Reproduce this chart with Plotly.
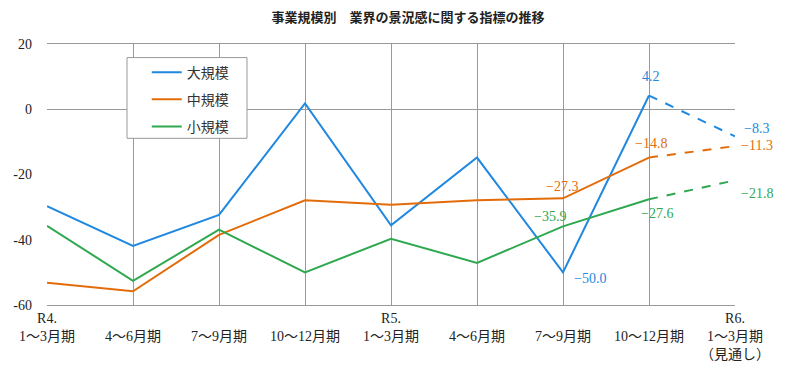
import plotly.graph_objects as go

title = "事業規模別　業界の景況感に関する指標の推移"
categories = [
    "R4.<br>1〜3月期", " <br>4〜6月期", " <br>7〜9月期", " <br>10〜12月期",
    "R5.<br>1〜3月期", " <br>4〜6月期", " <br>7〜9月期", " <br>10〜12月期",
    "R6.<br>1〜3月期<br>（見通し）",
]
series_names = ["大規模", "中規模", "小規模"]
large = [-29.7, -41.9, -32.4, 1.8, -35.6, -14.8, -50.0, 4.2, -8.3]
medium = [-53.2, -55.8, -38.5, -27.9, -29.3, -27.9, -27.3, -14.8, -11.3]
small = [-35.7, -52.6, -36.9, -50.0, -39.7, -47.1, -35.9, -27.6, -21.8]
labeled_points = [6, 7, 8]
y_ticks = [-60, -40, -20, 0, 20]

colors = ["#2188E0", "#E36C0A", "#2FA84F"]
serif = "Liberation Serif, Noto Sans CJK JP"
sans = "Noto Sans CJK JP, Noto Sans"

# label offsets (xshift, yshift) per series per labeled point
offsets = [
    [(27, -6), (2, 19), (21, 8)],
    [(-1, 12), (2, 14), (22, 1)],
    [(-13, 10), (8, -14), (22, -13)],
]

x = list(range(len(categories)))
fig = go.Figure()
annotations = []
for si, (name, vals) in enumerate(zip(series_names, [large, medium, small])):
    c = colors[si]
    fig.add_trace(go.Scatter(
        x=x[:8], y=vals[:8], mode="lines", name=name,
        line=dict(color=c, width=2), legendgroup=name,
    ))
    fig.add_trace(go.Scatter(
        x=x[7:], y=vals[7:], mode="lines", name=name, showlegend=False,
        line=dict(color=c, width=2, dash="dash"), legendgroup=name,
    ))
    for k, idx in enumerate(labeled_points):
        dx, dy = offsets[si][k]
        annotations.append(dict(
            x=x[idx], y=vals[idx], xref="x", yref="y",
            text=f"{vals[idx]:.1f}".replace("-", "\u2212"),
            showarrow=False, xshift=dx, yshift=dy,
            font=dict(family=serif, size=14, color=c),
        ))

fig.update_layout(
    width=800, height=375,
    margin=dict(l=39, r=73, t=35.5, b=78),
    paper_bgcolor="white", plot_bgcolor="white",
    title=dict(text=title, x=0.5, xanchor="center", y=0.975, yanchor="middle",
               font=dict(family=sans, size=13, color="#222", weight="bold")),
    annotations=annotations,
    showlegend=True,
    legend=dict(x=0.145, y=0.952, xanchor="left", yanchor="top",
                bgcolor="rgba(0,0,0,0)", borderwidth=0,
                font=dict(family=sans, size=14, color="#333"),
                tracegroupgap=6, traceorder="grouped"),
    shapes=[dict(type="rect", xref="paper", yref="paper",
                 x0=0.1163, x1=0.2907, y0=0.6386, y1=0.948,
                 line=dict(color="#999", width=1), fillcolor="white", layer="above")],
)
fig.update_xaxes(
    range=[0, 8], tickvals=x, ticktext=categories, automargin=False,
    showgrid=True, gridcolor="#999", gridwidth=1,
    showline=True, linecolor="#999", linewidth=1, mirror=True,
    ticks="", tickfont=dict(family=serif, size=14, color="#222"),
    zeroline=False,
)
fig.update_yaxes(
    range=[-60, 20], tickvals=y_ticks, ticktext=[str(v) for v in y_ticks],
    automargin=False,
    showgrid=False, zeroline=True, zerolinecolor="#999", zerolinewidth=1,
    showline=False, ticks="", ticklabelstandoff=14,
    tickfont=dict(family=serif, size=14, color="#222"),
)
fig.write_html("out.html")
